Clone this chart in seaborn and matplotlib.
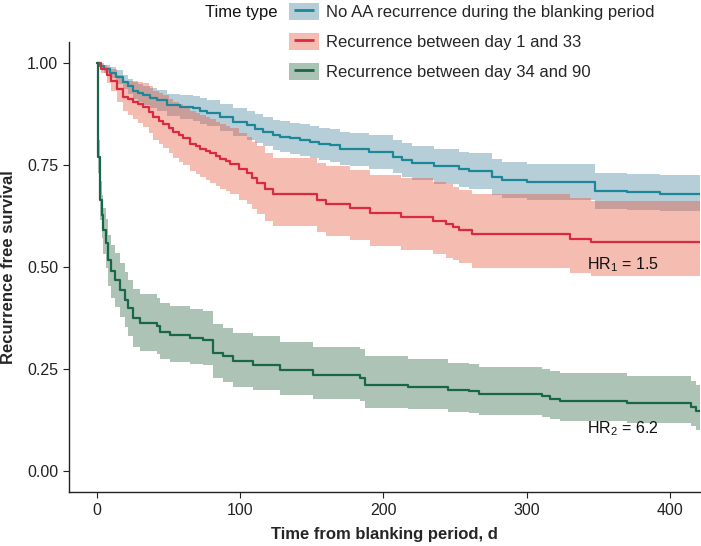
import matplotlib
matplotlib.use("Agg")
import matplotlib.pyplot as plt
import numpy as np
import pandas as pd
import seaborn as sns
from matplotlib.patches import Patch
from matplotlib.lines import Line2D

# ---------------- data ----------------
groups = ["No AA recurrence during the blanking period",
          "Recurrence between day 1 and 33",
          "Recurrence between day 34 and 90"]
legend_title = "Time type"

t_blue = [0, 2, 5, 9, 13, 18, 22, 25, 29, 32, 37, 42, 49, 58, 67, 72, 76.5, 86, 95, 104.5,
          110, 116, 123, 128, 134.7, 142, 148.6, 155, 162.6, 169.6, 177, 190, 206.6, 213, 220,
          235, 253, 260, 276, 283, 300, 347.5, 370, 393, 421]
s_blue = [1.0, .993, .985, .976, .965, .953, .942, .932, .926, .920, .914, .908, .896, .892, .888,
          .882, .876, .867, .855, .847, .839, .831, .823, .819, .815, .810, .806, .802, .798, .790,
          .788, .782, .770, .762, .754, .747, .739, .735, .721, .713, .709, .686, .683, .679, .679]
lo_blue = [1.0, .987, .975, .963, .949, .935, .923, .912, .904, .897, .890, .883, .869, .863, .858,
           .851, .844, .834, .821, .812, .803, .795, .786, .781, .777, .771, .767, .763, .758, .750,
           .748, .741, .729, .720, .712, .704, .696, .692, .677, .669, .665, .643, .640, .636, .636]
hi_blue = [1.0, .999, .995, .989, .981, .971, .961, .952, .948, .943, .938, .933, .923, .921, .918,
           .913, .908, .900, .889, .882, .875, .867, .860, .857, .853, .849, .845, .841, .838, .830,
           .828, .823, .811, .804, .796, .790, .782, .778, .765, .757, .753, .731, .728, .724, .724]

t_red = [0, 3, 7, 10, 14, 18, 22, 25, 29, 32, 36, 39, 43, 46, 50, 53, 57, 60, 65, 69, 72, 76, 79,
         83, 86, 90, 93, 99, 104.5, 108, 111.5, 117, 123, 153.5, 160, 176.6, 190.5, 212.6, 234.7,
         244, 248.5, 253, 262, 330, 345, 421]
s_red = [1.0, .985, .97, .955, .935, .916, .91, .905, .898, .892, .88, .867, .858, .85, .84, .831,
         .822, .815, .802, .796, .79, .784, .778, .771, .765, .759, .753, .74, .729, .717, .705, .69,
         .678, .664, .655, .644, .631, .623, .613, .605, .598, .591, .580, .568, .560, .560]
lo_red = [1.0, .975, .95, .93, .905, .881, .872, .863, .853, .842, .827, .812, .801, .791, .778,
          .768, .757, .749, .734, .727, .72, .713, .706, .699, .692, .685, .679, .665, .653, .641,
          .629, .613, .601, .586, .576, .565, .551, .542, .532, .523, .516, .509, .498, .485, .477, .477]
hi_red = [1.0, .995, .99, .985, .97, .956, .955, .955, .952, .950, .942, .932, .926, .92, .912,
          .905, .898, .893, .882, .877, .872, .867, .862, .856, .851, .846, .840, .828, .818, .806,
          .795, .780, .768, .755, .747, .737, .725, .718, .709, .702, .695, .688, .678, .668, .662, .662]

t_green = [0, 1, 2.1, 3.3, 4.4, 6.3, 7.9, 9.6, 12.6, 16, 19.5, 21.8, 25.3, 30, 41.7, 44, 51, 65,
           74, 81, 88, 95, 109, 128, 151, 183.5, 187, 217, 245, 260, 267, 310.5, 316, 323, 370,
           415, 418, 421]
s_green = [1.0, .77, .664, .627, .591, .559, .517, .489, .469, .444, .420, .400, .375, .363, .355,
           .342, .334, .326, .322, .290, .281, .269, .261, .247, .235, .229, .211, .206, .200, .196,
           .190, .184, .177, .172, .166, .157, .147, .147]
lo_green = [1.0, .73, .614, .572, .533, .497, .453, .424, .403, .377, .352, .331, .305, .294, .287,
            .275, .268, .262, .259, .228, .219, .207, .200, .187, .177, .172, .156, .152, .146, .143,
            .138, .133, .127, .123, .118, .110, .102, .102]
hi_green = [1.0, .81, .71, .677, .645, .617, .579, .553, .535, .511, .488, .469, .445, .433, .425,
            .412, .404, .396, .392, .360, .351, .339, .331, .317, .305, .299, .281, .276, .266, .262,
            .256, .251, .245, .240, .232, .222, .212, .212]

x_ticks = [0, 100, 200, 300, 400]
y_ticks = [0.0, 0.25, 0.50, 0.75, 1.00]
hr_labels = [r"HR$_\mathregular{1}$ = 1.5", r"HR$_\mathregular{2}$ = 6.2"]
hr_pos = [(342, 0.505), (342, 0.105)]

line_colors = ["#1B8799", "#DA2A42", "#1A6648"]
ribbon_colors = ["#49859E", "#E6583E", "#306946"]
legend_fill = ["#B5CDD7", "#F5BCB2", "#ABC3B4"]

# ---------------- style ----------------
sns.set_style("ticks")
plt.rcParams["font.family"] = ["Liberation Sans", "DejaVu Sans"]
plt.rcParams["mathtext.fontset"] = "custom"
plt.rcParams["mathtext.rm"] = "Liberation Sans"
plt.rcParams["mathtext.it"] = "Liberation Sans:italic"
plt.rcParams["mathtext.bf"] = "Liberation Sans:bold"

fig = plt.figure(figsize=(7.01, 5.46), dpi=100)
ax = fig.add_axes([69 / 701, 1 - 491.7 / 546, 631 / 701, 449.4 / 546])

series = [(t_blue, s_blue, lo_blue, hi_blue),
          (t_red, s_red, lo_red, hi_red),
          (t_green, s_green, lo_green, hi_green)]

for (t, s, lo, hi), rc in zip(series, ribbon_colors):
    ax.fill_between(t, lo, hi, step="post", color=rc, alpha=0.4, linewidth=0)

frames = []
for g, (t, s, lo, hi) in zip(groups, series):
    frames.append(pd.DataFrame({"time": t, "surv": s, "group": g}))
df = pd.concat(frames, ignore_index=True)

sns.lineplot(data=df, x="time", y="surv", hue="group", hue_order=groups,
             palette=line_colors, estimator=None, drawstyle="steps-post",
             linewidth=1.6, legend=False, ax=ax)

for lab, (x, y) in zip(hr_labels, hr_pos):
    ax.text(x, y, lab, fontsize=11.5, ha="left", va="center", color="#111111")

ax.set_xlim(-19.5, 421)
ax.set_ylim(-0.05, 1.05)
ax.set_xticks(x_ticks)
ax.set_yticks(y_ticks)
ax.set_yticklabels([f"{v:.2f}" for v in y_ticks])
ax.tick_params(axis="both", labelsize=11.5, length=4.3, width=0.8, color="#222222",
               labelcolor="#222222", pad=3.5)
for sp in ["top", "right"]:
    ax.spines[sp].set_visible(False)
for sp in ["left", "bottom"]:
    ax.spines[sp].set_color("#222222")
    ax.spines[sp].set_linewidth(1.0)

ax.set_xlabel("Time from blanking period, d", fontsize=12, fontweight="bold", labelpad=7)
ax.set_ylabel("Recurrence free survival", fontsize=12, fontweight="bold", labelpad=8)

handles = []
for lc, fc in zip(line_colors, legend_fill):
    p = Patch(facecolor=fc, edgecolor="none")
    l = Line2D([], [], color=lc, marker="_", markersize=15, markeredgewidth=2, linestyle="None")
    handles.append((p, l))
fig.legend(handles, groups, loc="upper left", bbox_to_anchor=(289 / 701, 1 - 3.5 / 546),
           frameon=False, fontsize=12, handlelength=1.8, handleheight=1.15,
           labelspacing=0.78, handletextpad=0.4, borderpad=0, borderaxespad=0)
fig.text(205 / 701, 1 - 12 / 546, legend_title, fontsize=12, ha="left", va="center",
         color="#111111")

fig.savefig("out.png", dpi=100)
